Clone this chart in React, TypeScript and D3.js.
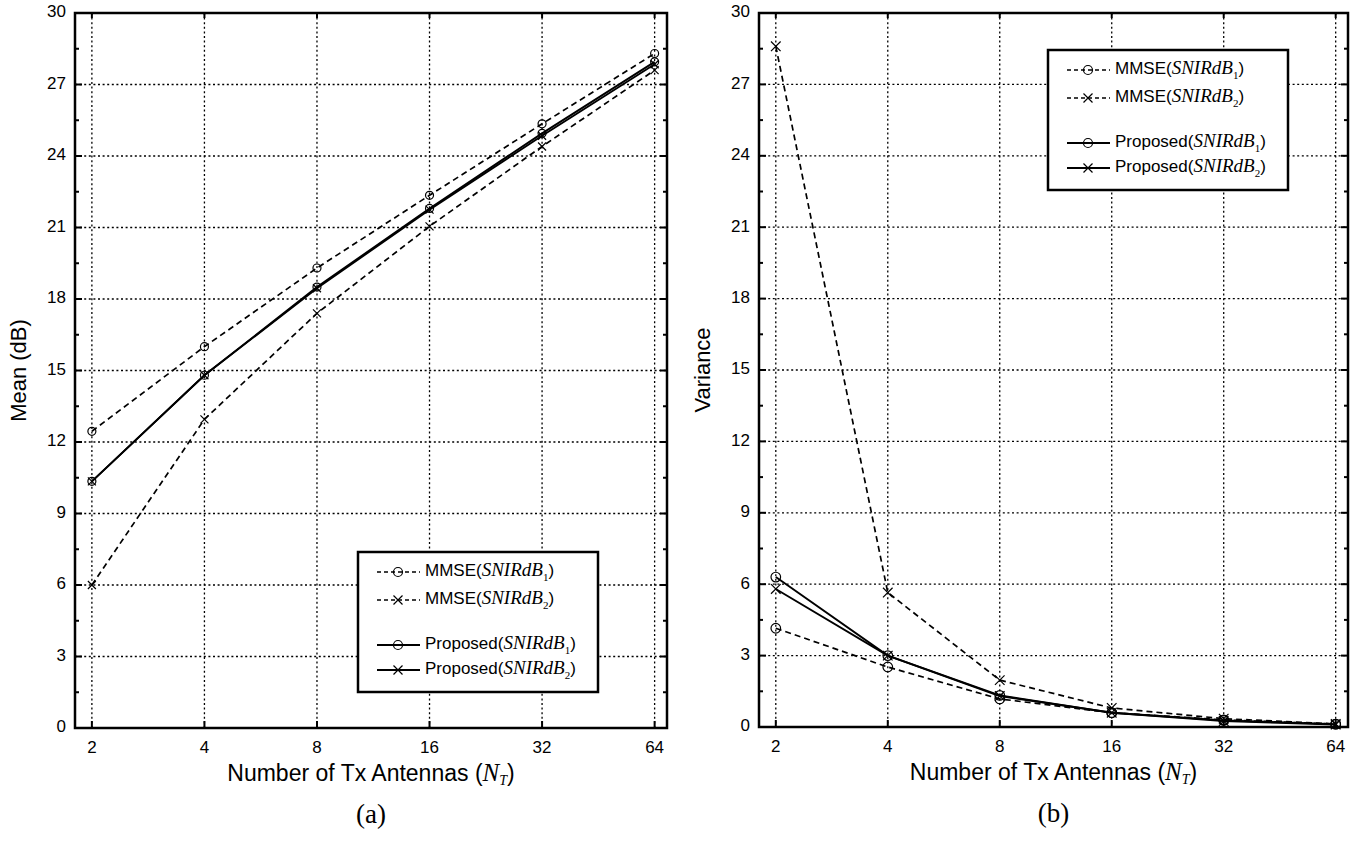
import * as d3 from "d3";

const antennas = [2, 4, 8, 16, 32, 64];
const yTicks = [0, 3, 6, 9, 12, 15, 18, 21, 24, 27, 30];

// (a) mean
const meanMmse1 = [12.45, 16.0, 19.3, 22.35, 25.35, 28.3];
const meanMmse2 = [6.0, 12.95, 17.4, 21.05, 24.4, 27.6];
const meanProp1 = [10.35, 14.8, 18.5, 21.8, 24.95, 27.95];
const meanProp2 = [10.35, 14.8, 18.45, 21.75, 24.85, 27.85];

// (b) variance
const varMmse1 = [4.15, 2.52, 1.18, 0.6, 0.3, 0.12];
const varMmse2 = [28.6, 5.65, 1.97, 0.8, 0.35, 0.13];
const varProp1 = [6.3, 3.0, 1.33, 0.6, 0.28, 0.12];
const varProp2 = [5.8, 3.0, 1.3, 0.6, 0.25, 0.1];

type Series = { name: string; sub: string; values: number[]; dashed: boolean; marker: "o" | "x" };

const SANS = "'Liberation Sans', Arial, sans-serif";
const SERIF = "'Liberation Serif', 'Times New Roman', serif";

function Marker({ kind, cx, cy, r = 4.5 }: { kind: "o" | "x"; cx: number; cy: number; r?: number }) {
  if (kind === "o") return <circle cx={cx} cy={cy} r={r} fill="none" stroke="#000" strokeWidth={1.2} />;
  return (
    <path
      d={`M${cx - r},${cy - r}L${cx + r},${cy + r}M${cx - r},${cy + r}L${cx + r},${cy - r}`}
      stroke="#000"
      strokeWidth={1.2}
    />
  );
}

function LegendLabel({ x, y, name, sub }: { x: number; y: number; name: string; sub: string }) {
  return (
    <text x={x} y={y} fontFamily={SANS} fontSize={17} dominantBaseline="middle">
      {name}(
      <tspan fontFamily={SERIF} fontStyle="italic" fontSize={19}>SNIRdB</tspan>
      <tspan fontFamily={SERIF} fontSize={11} dy={6}>{sub}</tspan>
      <tspan dy={-6}>)</tspan>
    </text>
  );
}

function Panel({
  left, right, top, bottom, series, yLabel, tag, legendX, legendY, markR,
}: {
  left: number; right: number; top: number; bottom: number; series: Series[];
  yLabel: string; tag: string; legendX: number; legendY: number; markR: number;
}) {
  const x = d3.scaleLog().base(2).domain([Math.pow(2, 0.85), Math.pow(2, 6.11)]).range([left, right]);
  const y = d3.scaleLinear().domain([0, 30]).range([bottom, top]);
  const minor = d3.range(1.5, 30, 3);
  const cx = (left + right) / 2;

  const legendRows = [20, 48, 93, 118];
  return (
    <g>
      {/* grid */}
      {yTicks.slice(1, -1).map((t) => (
        <line key={"gy" + t} x1={left} x2={right} y1={y(t)} y2={y(t)} stroke="#000" strokeWidth={1.3} strokeDasharray="2,2.6" />
      ))}
      {antennas.map((a) => (
        <line key={"gx" + a} x1={x(a)} x2={x(a)} y1={top} y2={bottom} stroke="#000" strokeWidth={1.3} strokeDasharray="2,2.6" />
      ))}
      {/* series */}
      {series.map((s) => {
        const line = d3.line<number>().x((_, i) => x(antennas[i])).y((v) => y(v));
        return (
          <g key={s.name + s.sub}>
            <path d={line(s.values) ?? ""} fill="none" stroke="#000" strokeWidth={s.dashed ? 1.7 : 1.9} strokeDasharray={s.dashed ? "6,4" : undefined} />
            {s.values.map((v, i) => (
              <Marker key={i} kind={s.marker} cx={x(antennas[i])} cy={y(v)} r={markR} />
            ))}
          </g>
        );
      })}
      {/* ticks */}
      {yTicks.map((t) => (
        <g key={"ty" + t}>
          <line x1={left} x2={left + 7} y1={y(t)} y2={y(t)} stroke="#000" strokeWidth={2} />
          <line x1={right} x2={right - 7} y1={y(t)} y2={y(t)} stroke="#000" strokeWidth={2} />
          <text x={left - 9} y={y(t)} textAnchor="end" dominantBaseline="middle" fontFamily={SANS} fontSize={17}>{t}</text>
        </g>
      ))}
      {minor.map((t) => (
        <g key={"tm" + t}>
          <line x1={left} x2={left + 4} y1={y(t)} y2={y(t)} stroke="#000" strokeWidth={2} />
          <line x1={right} x2={right - 4} y1={y(t)} y2={y(t)} stroke="#000" strokeWidth={2} />
        </g>
      ))}
      {antennas.map((a) => (
        <g key={"tx" + a}>
          <line x1={x(a)} x2={x(a)} y1={bottom} y2={bottom - 7} stroke="#000" strokeWidth={2} />
          <line x1={x(a)} x2={x(a)} y1={top} y2={top + 5} stroke="#000" strokeWidth={2} />
          <text x={x(a)} y={bottom + 21} textAnchor="middle" dominantBaseline="middle" fontFamily={SANS} fontSize={17}>{a}</text>
        </g>
      ))}
      <rect x={left} y={top} width={right - left} height={bottom - top} fill="none" stroke="#000" strokeWidth={2.5} />
      {/* legend */}
      <rect x={legendX} y={legendY} width={240} height={140} fill="#fff" stroke="#000" strokeWidth={2.5} />
      {series.map((s, i) => {
        const ly = legendY + legendRows[i];
        return (
          <g key={"lg" + i}>
            <line x1={legendX + 19} x2={legendX + 62} y1={ly} y2={ly} stroke="#000" strokeWidth={s.dashed ? 1.4 : 1.8} strokeDasharray={s.dashed ? "4,3" : undefined} />
            <Marker kind={s.marker} cx={legendX + 40} cy={ly} r={4.5} />
            <LegendLabel x={legendX + 67} y={ly} name={s.name} sub={s.sub} />
          </g>
        );
      })}
      {/* axis titles */}
      <text x={cx} y={bottom + 47} textAnchor="middle" dominantBaseline="middle" fontFamily={SANS} fontSize={23}>
        Number of Tx Antennas (
        <tspan fontFamily={SERIF} fontStyle="italic" fontSize={25}>N</tspan>
        <tspan fontFamily={SERIF} fontStyle="italic" fontSize={14} dy={7}>T</tspan>
        <tspan dy={-7}>)</tspan>
      </text>
      <text transform={`translate(${left - 55},${(top + bottom) / 2}) rotate(-90)`} textAnchor="middle" dominantBaseline="middle" fontFamily={SANS} fontSize={22}>
        {yLabel}
      </text>
      <text x={cx} y={bottom + 89} textAnchor="middle" dominantBaseline="middle" fontFamily={SERIF} fontSize={27}>{tag}</text>
    </g>
  );
}

export default function App() {
  const meanSeries: Series[] = [
    { name: "MMSE", sub: "1", values: meanMmse1, dashed: true, marker: "o" },
    { name: "MMSE", sub: "2", values: meanMmse2, dashed: true, marker: "x" },
    { name: "Proposed", sub: "1", values: meanProp1, dashed: false, marker: "o" },
    { name: "Proposed", sub: "2", values: meanProp2, dashed: false, marker: "x" },
  ];
  const varSeries: Series[] = [
    { name: "MMSE", sub: "1", values: varMmse1, dashed: true, marker: "o" },
    { name: "MMSE", sub: "2", values: varMmse2, dashed: true, marker: "x" },
    { name: "Proposed", sub: "1", values: varProp1, dashed: false, marker: "o" },
    { name: "Proposed", sub: "2", values: varProp2, dashed: false, marker: "x" },
  ];
  return (
    <svg width={1361} height={844} style={{ position: "absolute", left: 0, top: 0, background: "#fff" }}>
      <Panel left={75} right={667} top={13} bottom={728} series={meanSeries} yLabel="Mean (dB)" tag="(a)" legendX={358} legendY={552} markR={4} />
      <Panel left={759} right={1348} top={13} bottom={727} series={varSeries} yLabel="Variance" tag="(b)" legendX={1048} legendY={50} markR={4.8} />
    </svg>
  );
}
